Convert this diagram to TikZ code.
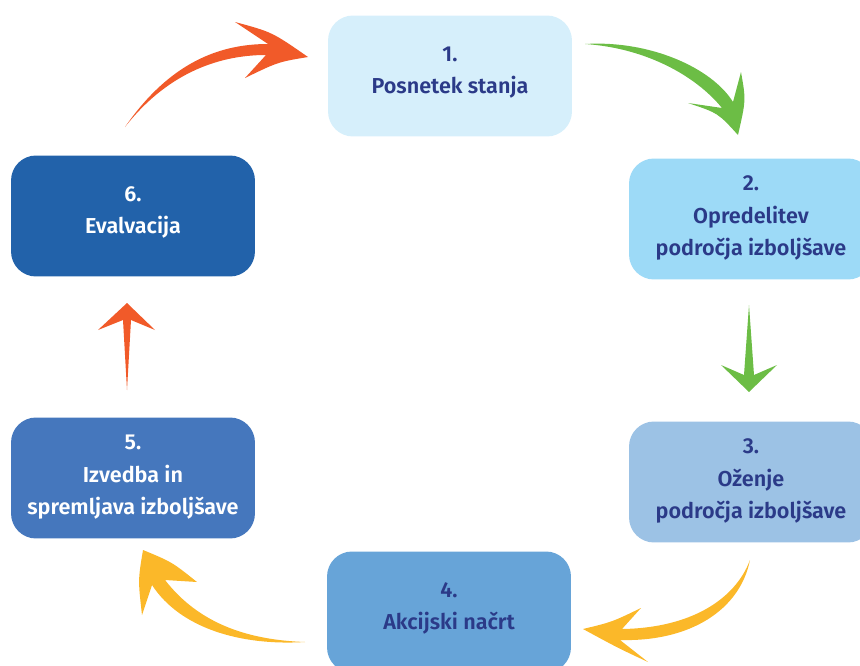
\documentclass[tikz,border=0pt]{standalone}
\usepackage{fontspec}
\setmainfont{Fira Sans}[BoldFont={Fira Sans SemiBold}]
\definecolor{navy}{HTML}{2B3A88}
\definecolor{boxA}{HTML}{D6EFFB}
\definecolor{boxB}{HTML}{9DDAF7}
\definecolor{boxC}{HTML}{9CC2E5}
\definecolor{boxD}{HTML}{67A4D8}
\definecolor{boxE}{HTML}{4577BD}
\definecolor{boxF}{HTML}{2262AA}
\definecolor{arrowred}{HTML}{F15A29}
\definecolor{arrowgreen}{HTML}{6CBD45}
\definecolor{arrowyellow}{HTML}{FBB829}
\begin{document}
\begin{tikzpicture}[x=0.02cm, y=-0.02cm]
            \tikzstyle{stage}=[rectangle, rounded corners=0.5cm, minimum width=4.88cm, minimum height=2.42cm, align=center, inner sep=0pt, font=\bfseries\fontsize{12.3}{18.5}\selectfont]
            \useasboundingbox (0,0) rectangle (860,666);
            \clip (0,0) rectangle (860,666);
            \node[stage, fill=boxA, text=navy] (S1) at (450,76) {1.\\Posnetek stanja\\[-12pt]\mbox{}};
            \node[stage, fill=boxB, text=navy] (S2) at (751,219) {2.\\Opredelitev\\področja izboljšave\\[-15pt]\mbox{}};
            \node[stage, fill=boxC, text=navy] (S3) at (751,482) {3.\\Oženje\\področja izboljšave\\[-15pt]\mbox{}};
            \node[stage, fill=boxD, text=navy] (S4) at (449,612) {4.\\Akcijski načrt\\[-12pt]\mbox{}};
            \node[stage, fill=boxE, text=white] (S5) at (133,478) {5.\\Izvedba in\\spremljava izboljšave\\[-15pt]\mbox{}};
            \node[stage, fill=boxF, text=white] (S6) at (133,216) {6.\\Evalvacija\\[-12pt]\mbox{}};
            % 1 -> 2
            \fill[arrowgreen] (585,44) .. controls (650,40) and (712,68) .. (733,102) -- (741,72)
                .. controls (746,100) .. (738,135) .. controls (718,113) .. (688,103)
                -- (722,108) .. controls (695,75) and (645,48) .. (585,44) -- cycle;
            % 2 -> 3
            \fill[arrowgreen] (749,305) -- (754,375) -- (777,365) -- (749,392) -- (721,365) -- (744,375) -- cycle;
            % 3 -> 4
            \fill[arrowyellow] (750,560) .. controls (740,610) and (690,642) .. (620,640) -- (648,662)
                .. controls (618,648) .. (583,629) .. controls (612,622) .. (641,608)
                -- (622,629) .. controls (690,628) and (735,600) .. (750,560) -- cycle;
            % 4 -> 5
            \fill[arrowyellow] (305,642) .. controls (240,646) and (180,628) .. (152,585) -- (142,615)
                .. controls (138,580) .. (143,550) .. controls (172,562) .. (197,582)
                -- (165,580) .. controls (200,625) and (250,640) .. (305,642) -- cycle;
            % 5 -> 6
            \fill[arrowred] (127,390) -- (131,320) -- (155,330) -- (127,303) -- (98,330) -- (123,320) -- cycle;
            % 6 -> 1
            \fill[arrowred] (125,127) .. controls (170,62) and (220,44) .. (268,44) -- (235,22)
                .. controls (272,32) .. (308,57) .. controls (278,62) .. (245,78)
                -- (266,55) .. controls (215,55) and (165,76) .. (125,127) -- cycle;
\end{tikzpicture}
\end{document}
